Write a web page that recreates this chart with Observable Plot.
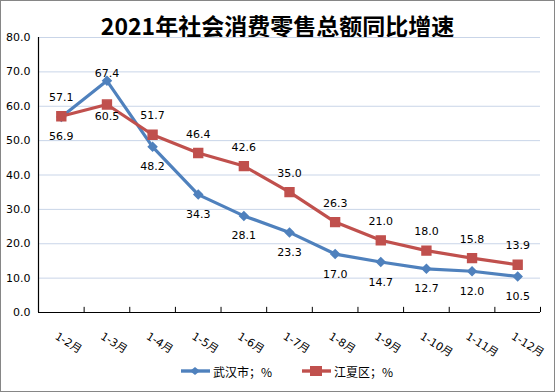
<!DOCTYPE html>
<html><head><meta charset="utf-8">
<script src="https://cdn.jsdelivr.net/npm/d3@7"></script>
<script src="https://cdn.jsdelivr.net/npm/@observablehq/plot@0.6"></script>
<style>
body{margin:0;background:#fff;}
#chart{position:relative;width:555px;height:392px;box-sizing:border-box;border:1px solid #868686;background:#fff;overflow:hidden;}
#title{position:absolute;left:0;top:9px;width:100%;text-align:center;font:bold 23px "Noto Sans CJK SC",sans-serif;line-height:30px;color:#000;}
#plot{position:absolute;left:0;top:0;}
#legend{position:absolute;top:361px;left:0;width:100%;height:18px;font:12px "Noto Sans CJK SC",sans-serif;color:#000;}
.lg{position:absolute;top:0;display:flex;align-items:center;height:18px;}
.lg svg{margin-right:2px;}
</style></head>
<body><div id="chart"><div id="title">2021年社会消费零售总额同比增速</div><div id="plot"></div><div id="legend"></div></div>
<script>
const categories = ["1-2月","1-3月","1-4月","1-5月","1-6月","1-7月","1-8月","1-9月","1-10月","1-11月","1-12月"];
const wuhan = [56.9,67.4,48.2,34.3,28.1,23.3,17.0,14.7,12.7,12.0,10.5];
const jiangxia = [57.1,60.5,51.7,46.4,42.6,35.0,26.3,21.0,18.0,15.8,13.9];
const yTicks = [0,10,20,30,40,50,60,70,80];
const seriesNames = ["武汉市；%","江夏区；%"];

const blue = "#4f81bd", red = "#c0504d";
const rows = categories.map((c,i)=>({i, pos:i+0.5, cat:c, wuhan:wuhan[i], jiangxia:jiangxia[i]}));
const fmt = d3.format(".1f");
const numFont = "DejaVu Sans, 'Noto Sans CJK SC', sans-serif";

const plot = Plot.plot({
  width: 553, height: 390,
  marginLeft: 37, marginRight: 14, marginTop: 36, marginBottom: 79,
  style: {fontFamily: numFont, fontSize: "11px", color: "#000", background: "transparent"},
  x: {domain: [0, categories.length], axis: null},
  y: {domain: [0, 80], axis: null},
  marks: [
    Plot.gridY(yTicks, {stroke: "#c9d5e8", strokeOpacity: 1, strokeWidth: 1}),
    Plot.axisY(yTicks, {tickSize: 0, tickPadding: 8, tickFormat: fmt, fontSize: 11}),
    Plot.ruleX([0], {stroke: "#000", strokeWidth: 1.2}),
    Plot.ruleY([0], {stroke: "#000", strokeWidth: 1.2}),
    Plot.ruleX(d3.range(categories.length + 1), {x: d=>d, y1: 0, y2: 1.5, stroke: "#000"}),
    Plot.text(rows, {x: "pos", y: 0, text: "cat", rotate: 32, textAnchor: "start", lineAnchor: "top", dx: -3, dy: 19, fontSize: 11}),
    Plot.line(rows, {x: "pos", y: "wuhan", stroke: blue, strokeWidth: 3.2}),
    Plot.line(rows, {x: "pos", y: "jiangxia", stroke: red, strokeWidth: 3.2}),
    Plot.dot(rows, {x: "pos", y: "wuhan", symbol: "diamond2", r: 3.8, fill: blue, stroke: blue}),
    Plot.dot(rows, {x: "pos", y: "jiangxia", symbol: "square", r: 5, fill: red, stroke: red}),
    Plot.text(rows.filter(d=>d.jiangxia >= d.wuhan), {x: "pos", y: "jiangxia", text: d=>fmt(d.jiangxia), dy: -19, fill: "#000"}),
    Plot.text(rows.filter(d=>d.jiangxia < d.wuhan), {x: "pos", y: "jiangxia", text: d=>fmt(d.jiangxia), dy: 12, fill: "#000"}),
    Plot.text(rows.filter(d=>d.wuhan > d.jiangxia), {x: "pos", y: "wuhan", text: d=>fmt(d.wuhan), dy: -7, fill: "#000"}),
    Plot.text(rows.filter(d=>d.wuhan <= d.jiangxia), {x: "pos", y: "wuhan", text: d=>fmt(d.wuhan), dy: 20, fill: "#000"})
  ]
});
document.getElementById("plot").appendChild(plot);

// legend
const legend = document.getElementById("legend");
const items = [
  {name: seriesNames[0], color: blue, left: 179, shape: "diamond"},
  {name: seriesNames[1], color: red, left: 300, shape: "square"}
];
for (const it of items) {
  const div = document.createElement("div");
  div.className = "lg";
  div.style.left = it.left + "px";
  const marker = it.shape === "diamond"
    ? `<path d="M15,5 L20,9 L15,13 L10,9 Z" fill="${it.color}"/>`
    : `<rect x="9" y="4" width="12" height="10" fill="${it.color}"/>`;
  div.innerHTML = `<svg width="31" height="18"><line x1="1" y1="9" x2="30" y2="9" stroke="${it.color}" stroke-width="3.4"/>${marker}</svg><span>${it.name}</span>`;
  legend.appendChild(div);
}
</script></body></html>
